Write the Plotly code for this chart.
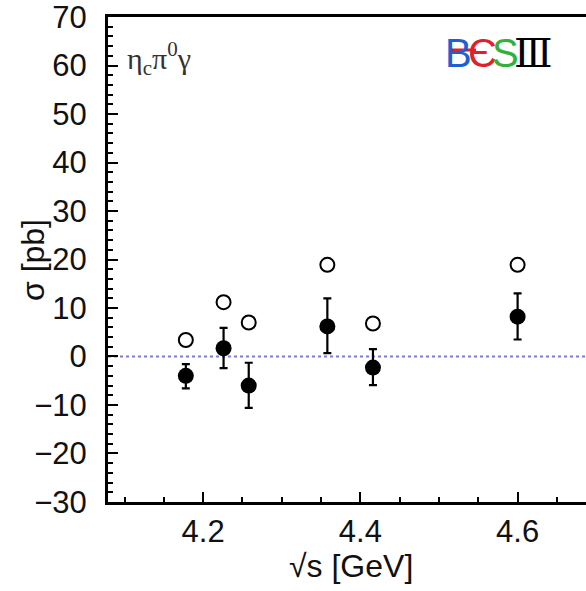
import plotly.graph_objects as go

energy = [4.178, 4.226, 4.258, 4.358, 4.416, 4.600]
sigma = [-4.0, 1.7, -6.0, 6.2, -2.3, 8.2]
err_plus = [2.4, 4.2, 4.7, 5.8, 3.8, 4.8]
err_minus = [2.6, 4.1, 4.6, 5.5, 3.6, 4.7]
upper_limit = [3.4, 11.2, 7.0, 18.9, 6.8, 18.9]

x_range = [4.079, 4.687]
y_range = [-30.02, 70.02]

fig = go.Figure()

fig.add_trace(go.Scatter(
    x=energy, y=sigma, mode="markers",
    marker=dict(size=16, color="black"),
    error_y=dict(type="data", symmetric=False, array=err_plus, arrayminus=err_minus,
                 thickness=2.2, width=4, color="black"),
    showlegend=False,
))
fig.add_trace(go.Scatter(
    x=energy, y=upper_limit, mode="markers",
    marker=dict(size=14, color="white", line=dict(color="black", width=2)),
    showlegend=False,
))

fig.add_shape(type="line", xref="paper", x0=0, x1=1, yref="y", y0=0, y1=0,
              line=dict(color="#7b7bdb", width=2, dash="dot"), layer="below")

font_main = "Liberation Sans, Arial, sans-serif"


def px_x(p):
    return (p - 108) / 478


def px_y(p):
    return (502 - p) / 485


logo_font = "Liberation Sans, Arial, sans-serif"
logo_letters = [
    ("B", "#1f5fd6", 458, logo_font, 40),
    ("Є", "#e0202a", 482, logo_font, 40),
    ("S", "#2db33a", 505, logo_font, 40),
    ("Ⅲ", "#000000", 533, "DejaVu Serif, Liberation Serif, serif", 40),
]

annotations = [
    dict(xref="paper", yref="paper", x=px_x(351), y=px_y(566),
         xanchor="center", yanchor="middle", text="√s [GeV]", showarrow=False,
         font=dict(size=32, family=font_main, color="#111111")),
    dict(xref="paper", yref="paper", x=px_x(33), y=px_y(260),
         xanchor="center", yanchor="middle", text="σ [pb]", textangle=-90, showarrow=False,
         font=dict(size=32, family=font_main, color="#111111")),
    dict(xref="paper", yref="paper", x=px_x(125), y=px_y(35),
         xanchor="left", yanchor="top",
         text="η<sub>c</sub>π<sup>0</sup>γ", showarrow=False,
         font=dict(size=30, family="Liberation Serif, Times New Roman, serif", color="#333333")),
]
for txt, col, cx, fam, sz in logo_letters:
    annotations.append(dict(xref="paper", yref="paper", x=px_x(cx), y=px_y(53),
                            xanchor="center", yanchor="middle", text=txt, showarrow=False,
                            font=dict(size=sz, family=fam, color=col)))

fig.update_layout(
    width=586, height=591,
    margin=dict(l=108, r=0, t=17, b=89, autoexpand=False),
    paper_bgcolor="white", plot_bgcolor="white",
    font=dict(family=font_main, color="#111111"),
    xaxis=dict(
        range=x_range, showgrid=False, zeroline=False, automargin=False,
        showline=True, linecolor="black", linewidth=3, mirror=True,
        ticks="inside", ticklen=10, tickwidth=2, tickcolor="black",
        tickvals=[4.2, 4.4, 4.6], ticktext=["4.2", "4.4", "4.6"],
        minor=dict(ticks="inside", ticklen=5, tickwidth=2, tickcolor="black", dtick=0.05, tick0=4.0),
        tickfont=dict(size=31, family=font_main),
        ticklabelstandoff=0, ticklabeloverflow="allow",
    ),
    yaxis=dict(
        range=y_range, showgrid=False, zeroline=False, automargin=False,
        showline=True, linecolor="black", linewidth=3,
        ticks="inside", ticklen=10, tickwidth=2, tickcolor="black",
        tickvals=list(range(-30, 71, 10)),
        ticktext=["−30", "−20", "−10", "0", "10", "20", "30", "40", "50", "60", "70"],
        minor=dict(ticks="inside", ticklen=5, tickwidth=2, tickcolor="black", dtick=2, tick0=0),
        tickfont=dict(size=31, family=font_main),
        ticklabelstandoff=12, ticklabeloverflow="allow",
    ),
    annotations=annotations,
)

# red stroke through the logo's B and E
fig.add_shape(type="line", xref="paper", yref="paper",
              x0=px_x(449), x1=px_x(476), y0=px_y(50), y1=px_y(50),
              line=dict(color="#e0202a", width=3))

fig.write_html("out.html")
